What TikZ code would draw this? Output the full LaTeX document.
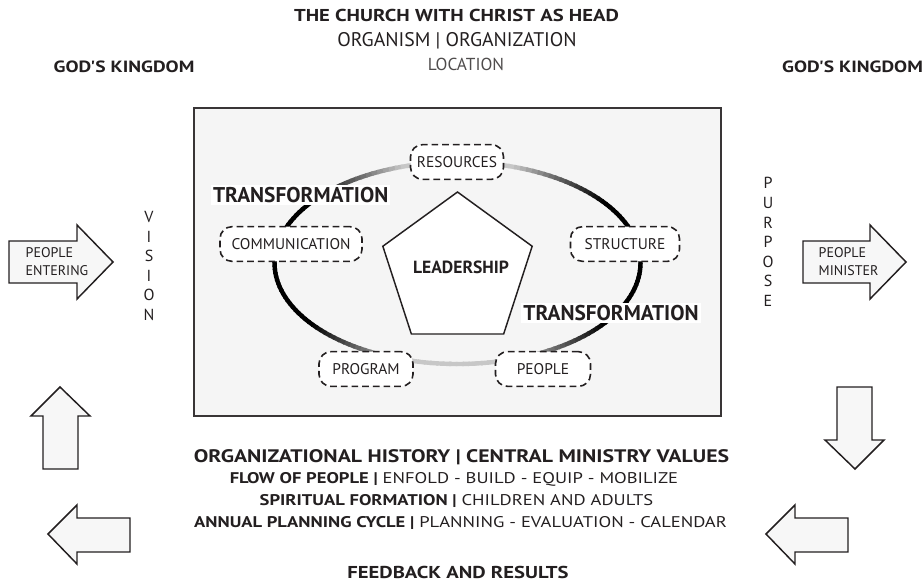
\documentclass[tikz,border=0pt]{standalone}
\usepackage{fontspec}
\setmainfont{PT Sans}
\newfontfamily\widefont{PT Sans}[FakeStretch=1.2]
\usetikzlibrary{shapes.geometric}

\definecolor{ink}{HTML}{231F20}
\tikzset{
  ring/.style={line width=3.3pt},
  dashbox/.style={draw=ink, fill=white, dash pattern=on 5pt off 3pt, line width=1.2pt,
    rounded corners=9pt, minimum width=#1, minimum height=26pt, inner sep=0pt,
    text=ink, font=\fontsize{11.6}{13}\selectfont},
  blockarrow/.style={draw=ink, fill=black!3, line width=1.1pt, line join=miter},
  widebold/.style={text=ink, font=\widefont\fontsize{#1}{15}\selectfont\bfseries},
  wideline/.style={text=ink, font=\widefont\fontsize{11.6}{13}\selectfont},
  trans/.style={fill=white, inner sep=1.5pt, text=ink, font=\fontsize{16}{18}\selectfont\bfseries},
  upright/.style={align=center, text=ink, font=\fontsize{12}{14.7}\selectfont},
  armtext/.style={align=left, anchor=west, text=ink, font=\fontsize{10.5}{13.5}\selectfont}
}

\begin{document}
\begin{tikzpicture}[x=0.75pt,y=0.75pt,yscale=-1,xscale=1]
\useasboundingbox (0,0) rectangle (924,582);

% heading
\node[widebold=12.9] (church) at (456.5,15) {THE CHURCH WITH CHRIST AS HEAD};
\node[text=ink, font=\fontsize{14.8}{16}\selectfont] (organism) at (457,41) {ORGANISM | ORGANIZATION};
\node[text=ink!80, font=\fontsize{13}{15}\selectfont] (location) at (466,64) {LOCATION};
\node[widebold=12.2] (kingdomL) at (124,67) {GOD'S KINGDOM};
\node[widebold=12.2] (kingdomR) at (852.5,67) {GOD'S KINGDOM};

% frame
\draw[draw=ink!90, fill=black!4, line width=1.1pt] (194,108) rectangle (721,416);

% ring, dark on the sides and pale at top and bottom
\coordinate (hub) at (457.5,263);
\foreach \a in {0,2,...,358}{
  \pgfmathsetmacro\k{22+78*min(1,max(0,(abs(cos(\a+1))-0.3)/0.5))}
  \draw[ring, draw=black!\k] (hub) ++(\a:183 and 101) arc[start angle=\a, end angle=\a+2.6, x radius=183, y radius=101];
}

\node[dashbox=69.75pt] (resources) at (457,162) {RESOURCES};
\node[dashbox=106.5pt] (communication) at (291,244) {COMMUNICATION};
\node[dashbox=81.75pt] (structure) at (625,244) {STRUCTURE};
\node[dashbox=70.5pt] (program) at (366,369) {PROGRAM};
\node[dashbox=71.25pt] (people) at (543,369) {PEOPLE};

\node[regular polygon, regular polygon sides=5, minimum size=117.75pt, inner sep=0pt,
  draw=ink, fill=white, line width=1.1pt] (leadership) at (457.5,270.5) {};
\node[text=ink, font=\fontsize{13.2}{15}\selectfont\bfseries] (leadtext) at (461,267) {LEADERSHIP};

\node[trans] (transA) at (300.7,195) {TRANSFORMATION};
\node[trans] (transB) at (611,313) {TRANSFORMATION};

% side arrows
\draw[blockarrow] (9,241) -- (77,241) -- (77,225) -- (113,262) -- (77,299) -- (77,283) -- (9,283) -- cycle;
\node[armtext] (entering) at (21,262) {PEOPLE\\ENTERING};
\draw[blockarrow] (803,241) -- (870,241) -- (870,225) -- (906,262) -- (870,299) -- (870,283) -- (803,283) -- cycle;
\node[armtext] (minister) at (814,262) {PEOPLE\\MINISTER};

\node[upright] (vision) at (149,266) {V\\I\\S\\I\\O\\N};
\node[upright] (purpose) at (768,242) {P\\U\\R\\P\\O\\S\\E};

% feedback loop arrows
\draw[blockarrow] (43,469) -- (43,416) -- (31,416) -- (60,387) -- (90,416) -- (78,416) -- (78,469) -- cycle;
\draw[blockarrow] (130,518) -- (77,518) -- (77,505) -- (48,534) -- (77,564) -- (77,552) -- (130,552) -- cycle;
\draw[blockarrow] (837,387) -- (872,387) -- (872,440) -- (884,440) -- (855,469) -- (825,440) -- (837,440) -- cycle;
\draw[blockarrow] (848,518) -- (795,518) -- (795,505) -- (766,534) -- (795,564) -- (795,552) -- (848,552) -- cycle;

% lower text
\node[widebold=13.6] (history) at (461.5,457.5) {ORGANIZATIONAL HISTORY | CENTRAL MINISTRY VALUES};
\node[wideline] (flow) at (454,479) {{\bfseries FLOW OF PEOPLE |} ENFOLD - BUILD - EQUIP - MOBILIZE};
\node[wideline] (spiritual) at (456.5,501) {{\bfseries SPIRITUAL FORMATION |} CHILDREN AND ADULTS};
\node[wideline] (cycle) at (460.5,523) {{\bfseries ANNUAL PLANNING CYCLE |} PLANNING - EVALUATION - CALENDAR};
\node[widebold=12.9] (feedback) at (458,572) {FEEDBACK AND RESULTS};
\end{tikzpicture}
\end{document}
